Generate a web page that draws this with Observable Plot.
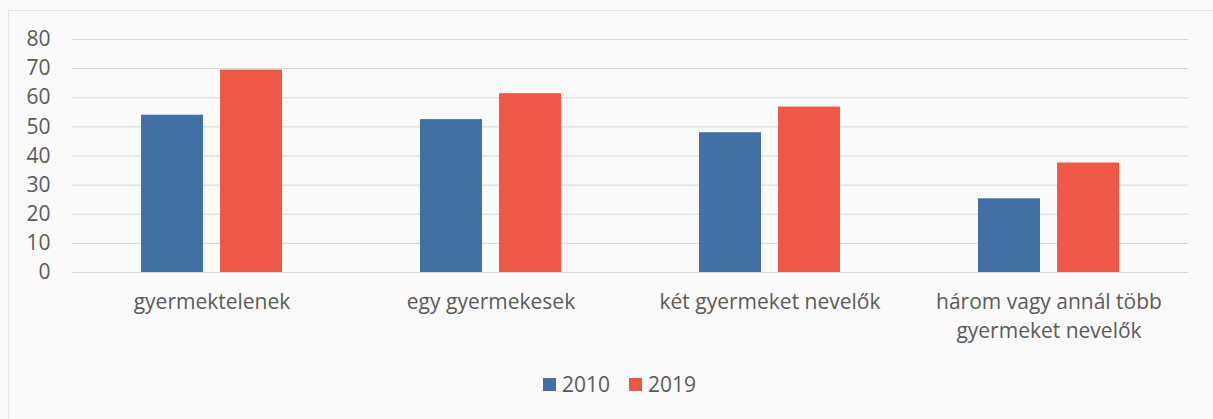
<!DOCTYPE html>
<html>
<head>
<meta charset="utf-8">
<script src="https://cdn.jsdelivr.net/npm/d3@7"></script>
<script src="https://cdn.jsdelivr.net/npm/@observablehq/plot@0.6"></script>
<style>
  html, body { margin: 0; padding: 0; background: #fafafa; }
  #wrap { position: relative; width: 1213px; height: 419px; overflow: hidden; font-family: "Open Sans", sans-serif; }
  #frame { position: absolute; left: 8px; top: 10px; width: 1220px; height: 420px; border-left: 1px solid #e6e6e6; border-top: 1px solid #e6e6e6; box-sizing: border-box; }
  #chart { position: absolute; left: 0; top: 0; }
  #legend { position: absolute; left: 543px; top: 370px; display: flex; align-items: center; font-size: 21px; color: #5a5a5a; }
  #legend .sw { width: 13px; height: 13px; display: inline-block; margin-right: 6px; }
  #legend .item { display: flex; align-items: center; margin-right: 19px; }
</style>
</head>
<body>
<div id="wrap">
  <div id="frame"></div>
  <div id="chart"></div>
  <div id="legend"></div>
</div>
<script>
const categories = ["gyermektelenek", "egy gyermekesek", "két gyermeket nevelők", "három vagy annál több gyermeket nevelők"];
const categoryLabels = ["gyermektelenek", "egy gyermekesek", "két gyermeket nevelők", "három vagy annál több\ngyermeket nevelők"];
const years = ["2010", "2019"];
const values2010 = [54, 52.5, 48, 25.3];
const values2019 = [69.5, 61.4, 56.8, 37.6];
const yTicks = [0, 10, 20, 30, 40, 50, 60, 70, 80];
const colors = ["#426fa6", "#ef5846"];

const data = [];
categories.forEach((c, i) => {
  data.push({cat: c, year: years[0], value: values2010[i]});
  data.push({cat: c, year: years[1], value: values2019[i]});
});

const chart = Plot.plot({
  width: 1213,
  height: 365,
  marginTop: 39,
  marginBottom: 93,
  marginLeft: 72,
  marginRight: 25,
  style: {fontFamily: "Open Sans, sans-serif", fontSize: "21px", color: "#5a5a5a", background: "transparent"},
  fx: {domain: categories, padding: 0, label: null},
  x: {domain: years, paddingInner: 0.214, paddingOuter: 0.862, axis: null},
  y: {domain: [0, 80], label: null},
  color: {domain: years, range: colors},
  marks: [
    Plot.gridY(yTicks, {stroke: "#d6d6d6", strokeOpacity: 1, strokeWidth: 1}),
    Plot.barY(data, {fx: "cat", x: "year", y: "value", fill: "year"}),
    Plot.axisY(yTicks, {tickSize: 0, tickPadding: 22, fontSize: 21, label: null, fill: "#5a5a5a"}),
    Plot.axisFx({anchor: "bottom", tickSize: 0, tickPadding: 16, fontSize: 21, lineHeight: 1.38, label: null, fill: "#5a5a5a",
      tickFormat: d => categoryLabels[categories.indexOf(d)]})
  ]
});
document.getElementById("chart").appendChild(chart);

const legend = document.getElementById("legend");
years.forEach((y, i) => {
  const item = document.createElement("span");
  item.className = "item";
  const sw = document.createElement("span");
  sw.className = "sw";
  sw.style.background = colors[i];
  item.appendChild(sw);
  item.appendChild(document.createTextNode(y));
  legend.appendChild(item);
});
</script>
</body>
</html>
